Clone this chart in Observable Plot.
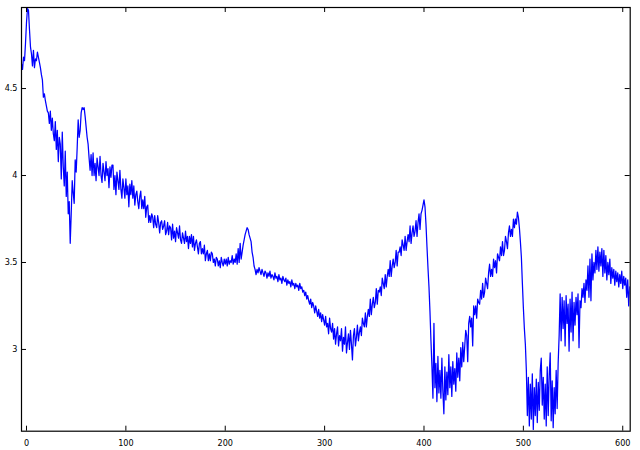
<!DOCTYPE html>
<html>
<head>
<meta charset="utf-8">
<script src="https://cdn.jsdelivr.net/npm/d3@7"></script>
<script src="https://cdn.jsdelivr.net/npm/@observablehq/plot@0.6"></script>
<style>
  html, body { margin: 0; padding: 0; background: #fff; }
  svg { display: block; }
</style>
</head>
<body>
<div id="chart"></div>
<script>
// x values start at -5 and advance by 1
const xStart = -5;
const xTicks = [0, 100, 200, 300, 400, 500, 600];
const yTicks = [3, 3.5, 4, 4.5];
const xDomain = [-5.03, 607.5];
const yDomain = [2.53, 4.966];

const seg1 = [4.64, 4.61, 4.68, 4.66, 4.76, 4.88, 4.96, 4.95, 4.84, 4.74, 4.70, 4.63, 4.72, 4.62, 4.67, 4.66, 4.71, 4.68, 4.65, 4.62, 4.58, 4.55, 4.45, 4.47, 4.43, 4.40, 4.37];
const seg2 = [4.36, 4.30, 4.37, 4.26, 4.33, 4.24, 4.20, 4.31, 4.15, 4.26, 4.08, 4.22, 4.18, 3.98, 4.25, 4.05, 3.94, 4.14, 3.88, 4.02, 3.78, 3.85];
const seg3 = [3.61, 3.78, 3.97, 3.90, 3.84, 4.09, 4.02, 4.16, 4.32, 4.22, 4.26, 4.36, 4.39, 4.38, 4.39, 4.34, 4.28, 4.22, 4.18, 4.10, 4.03, 4.12, 4.00];
const seg4 = [
  4.13, 4.00, 4.07, 3.97, 4.10, 4.05, 4.00, 4.11, 4.00, 3.96,
  4.07, 4.02, 3.97, 4.08, 4.00, 4.04, 3.93, 4.05, 3.99, 4.06,
  4.06, 3.92, 4.00, 3.89, 4.02, 3.97, 3.92, 4.03, 3.92, 3.87,
  3.98, 3.93, 3.87, 3.98, 3.89, 3.94, 3.82, 3.95, 3.89, 3.97,
  3.87, 3.94, 3.83, 3.89, 3.91, 3.85, 3.81, 3.88, 3.91, 3.81,
  3.86, 3.81, 3.88, 3.76, 3.82, 3.83, 3.73, 3.77, 3.73, 3.78,
  3.76, 3.70, 3.77, 3.72, 3.70, 3.77, 3.73, 3.67, 3.73, 3.74,
  3.69, 3.71, 3.74, 3.66, 3.68, 3.73, 3.66, 3.71, 3.70, 3.63,
  3.72, 3.64, 3.68, 3.62, 3.70, 3.67, 3.64, 3.71, 3.63, 3.61,
  3.67, 3.64, 3.61, 3.68, 3.62, 3.65, 3.58, 3.65, 3.61, 3.66,
  3.59, 3.65, 3.57, 3.61, 3.63, 3.59, 3.55, 3.61, 3.62, 3.55,
  3.58, 3.55, 3.60, 3.51, 3.55, 3.57, 3.51, 3.55, 3.51, 3.56,
  3.55, 3.50, 3.52, 3.48, 3.53, 3.52, 3.48, 3.51, 3.47, 3.53,
  3.50, 3.48, 3.52, 3.49
];
const seg5 = [
  3.52, 3.48, 3.53, 3.49, 3.51, 3.50, 3.54, 3.49, 3.52, 3.50,
  3.55, 3.49, 3.58, 3.50, 3.61, 3.52, 3.56, 3.60, 3.63, 3.66,
  3.68, 3.70, 3.69, 3.66, 3.64, 3.62, 3.56, 3.53, 3.48, 3.46, 3.43, 3.46
];
const seg6 = [
  3.44, 3.47, 3.45, 3.43, 3.46, 3.44, 3.42, 3.45, 3.44, 3.41,
  3.44, 3.42, 3.45, 3.41, 3.43, 3.42, 3.40, 3.44, 3.41, 3.42,
  3.39, 3.43, 3.40, 3.41, 3.38, 3.42, 3.40, 3.39, 3.41, 3.37,
  3.40, 3.38, 3.39, 3.36, 3.40, 3.37, 3.38, 3.35, 3.38, 3.36,
  3.37, 3.34, 3.38, 3.35, 3.36, 3.33, 3.34, 3.31, 3.33, 3.29,
  3.31, 3.28, 3.26, 3.29, 3.24, 3.27, 3.25, 3.21, 3.25, 3.22,
  3.19, 3.23, 3.18, 3.21, 3.16, 3.20, 3.17, 3.14
];
const seg7 = [
  3.19, 3.13, 3.15, 3.09, 3.18, 3.12, 3.10, 3.15, 3.06, 3.12,
  3.03, 3.09, 3.13, 3.02, 3.08, 3.05, 3.12, 2.99, 3.07, 3.03,
  3.13, 2.98, 3.04, 3.09, 3.00, 3.11, 3.03, 2.94, 3.08, 3.12,
  3.02, 3.07, 3.14, 3.05, 3.10
];
const seg8 = [
  3.13, 3.08, 3.18, 3.15, 3.13, 3.21, 3.13, 3.19, 3.23, 3.19,
  3.29, 3.20, 3.26, 3.30, 3.24, 3.27, 3.35, 3.26, 3.34, 3.33,
  3.36, 3.31, 3.41, 3.38, 3.35, 3.43, 3.36, 3.42, 3.46, 3.42,
  3.51, 3.42, 3.48, 3.52, 3.47, 3.50, 3.57, 3.48, 3.56, 3.56,
  3.59, 3.54, 3.63, 3.60, 3.57, 3.65, 3.57, 3.62, 3.66, 3.62,
  3.71, 3.61, 3.67, 3.71, 3.65, 3.68, 3.74, 3.65, 3.73, 3.78,
  3.69, 3.78, 3.80, 3.83, 3.86
];
const seg9 = [3.82, 3.72, 3.59, 3.47, 3.36, 3.22, 3.05, 2.90, 2.72];
const seg10 = [
  3.15, 2.78, 2.92, 2.70, 2.96, 2.75, 2.88, 2.72, 2.95, 2.76,
  2.63, 2.90, 2.71, 2.87, 2.74, 2.97, 2.78, 2.90, 2.73, 2.93,
  2.80, 2.89, 2.76, 2.98, 2.84, 2.95, 2.82, 3.01, 2.90, 3.04, 2.93
];
const seg11 = [
  3.02, 3.11, 3.08, 2.93, 3.15, 3.19, 3.13, 3.18, 3.02, 3.25,
  3.20, 3.25, 3.18, 3.29, 3.27, 3.26, 3.34, 3.29, 3.38, 3.30,
  3.33, 3.41, 3.38, 3.35, 3.44, 3.49, 3.42, 3.46, 3.42, 3.52,
  3.47, 3.51, 3.44, 3.55, 3.53, 3.51, 3.59, 3.54, 3.62, 3.54,
  3.57, 3.65, 3.62, 3.58, 3.67, 3.71, 3.65, 3.69, 3.65, 3.75,
  3.70, 3.75, 3.72, 3.79
];
const seg12 = [3.76, 3.70, 3.62, 3.53, 3.38, 3.24, 3.12, 3.03, 2.88];
const seg13 = [
  2.62, 2.84, 2.56, 2.80, 2.60, 2.86, 2.54, 2.78, 2.62, 2.83,
  2.58, 2.81, 2.65, 2.88, 2.95, 2.68, 2.84, 2.60, 2.80, 2.56,
  2.90, 2.62, 2.85, 2.98, 2.59, 2.82, 2.55, 2.78, 2.63, 2.88, 2.66, 2.92
];
const seg14 = [
  3.08, 3.32, 3.05, 3.30, 3.12, 3.28, 3.02, 3.31, 3.15, 3.26,
  2.99, 3.29, 3.10, 3.33, 3.05, 3.27, 3.14, 3.30, 3.20, 3.32,
  3.01, 3.28, 3.24, 3.35, 3.30, 3.38, 3.27, 3.40, 3.34, 3.48,
  3.30, 3.52, 3.28, 3.55, 3.40, 3.50, 3.44, 3.57, 3.46, 3.59,
  3.45, 3.56, 3.48, 3.58, 3.42, 3.57, 3.44, 3.54, 3.40, 3.50,
  3.43, 3.52, 3.38, 3.47, 3.41, 3.46, 3.37, 3.45, 3.39, 3.44,
  3.36, 3.43, 3.38, 3.45, 3.35, 3.42, 3.37, 3.41, 3.30, 3.40, 3.25, 3.36
];

const values = [].concat(seg1, seg2, seg3, seg4, seg5, seg6, seg7, seg8, seg9, seg10, seg11, seg12, seg13, seg14);
const data = values.map((v, i) => ({x: xStart + i, y: v}));

const W = 640, H = 450;
const mL = 21, mR = 10.3, mT = 7, mB = 19.3;
const plotW = W - mL - mR, plotH = H - mT - mB;
const tick = 5;
const font = "'Liberation Sans Narrow', 'DejaVu Sans Condensed', sans-serif";

const chart = Plot.plot({
  width: W,
  height: H,
  marginLeft: mL,
  marginRight: mR,
  marginTop: mT,
  marginBottom: mB,
  style: {fontFamily: font, fontSize: "9px", color: "black", background: "white"},
  x: {domain: xDomain, axis: null},
  y: {domain: yDomain, axis: null},
  marks: [
    Plot.line(data, {x: "x", y: "y", stroke: "#0000ff", strokeWidth: 1.25, clip: true}),
    Plot.gridX(xTicks, {stroke: "black", strokeOpacity: 1, insetTop: plotH - tick}),
    Plot.gridX(xTicks, {stroke: "black", strokeOpacity: 1, insetBottom: plotH - tick}),
    Plot.gridY(yTicks, {stroke: "black", strokeOpacity: 1, insetRight: plotW - tick}),
    Plot.gridY(yTicks, {stroke: "black", strokeOpacity: 1, insetLeft: plotW - tick}),
    Plot.axisX(xTicks, {tickSize: 0, tickPadding: 8, fontSize: 9, label: null, tickFormat: d => String(d)}),
    Plot.axisY(yTicks, {tickSize: 0, tickPadding: 4, fontSize: 9, label: null, tickFormat: d => String(d)}),
    Plot.frame({stroke: "black", strokeWidth: 1.2})
  ]
});
document.getElementById("chart").appendChild(chart);
</script>
</body>
</html>
